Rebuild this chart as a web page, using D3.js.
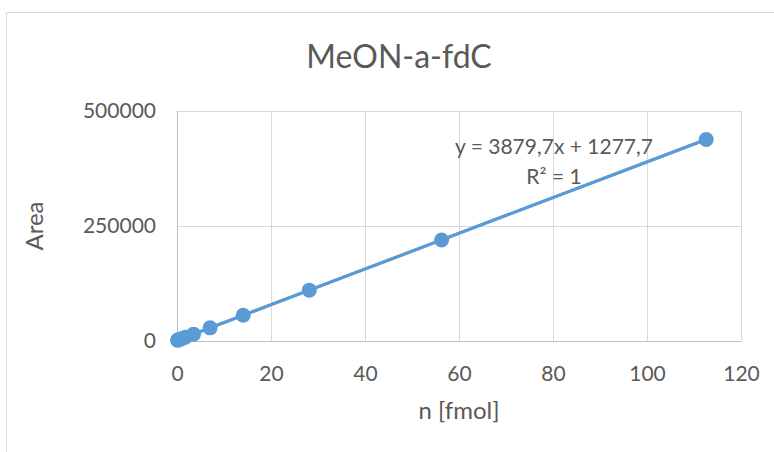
<!DOCTYPE html>
<html><head><meta charset="utf-8">
<script src="https://cdn.jsdelivr.net/npm/d3@7/dist/d3.min.js"></script>
<style>body{margin:0;background:#fff;} text{font-family:Lato,"Open Sans",sans-serif;fill:#595959;}</style>
</head><body>
<svg id="c" width="774" height="452"></svg>
<script>
const xValues = [0.11, 0.22, 0.44, 0.88, 1.76, 3.52, 7.04, 14.08, 28.15, 56.3, 112.6];
const yValues = [1700, 2150, 3000, 4700, 8100, 14900, 28600, 55900, 110500, 219700, 438100];
const xTicks = [0, 20, 40, 60, 80, 100, 120];
const yTicks = [0, 250000, 500000];
const slope = 3879.7, intercept = 1277.7;
const title = "MeON-a-fdC";
const xLabel = "n [fmol]";
const yLabel = "Area";
const eqText = "y = 3879,7x + 1277,7";

const svg = d3.select("#c");
const color = "#5B9BD5";
const m = {l:177, r:741, t:111, b:341};
const x = d3.scaleLinear().domain([0,120]).range([m.l, m.r]);
const y = d3.scaleLinear().domain([0,500000]).range([m.b, m.t]);

svg.append("rect").attr("x",6.5).attr("y",12.5).attr("width",800).attr("height",500)
  .attr("fill","#fff").attr("stroke","#d9d9d9");

// grid
svg.append("g").selectAll("line").data(xTicks.filter(d=>d>0)).join("line")
  .attr("x1",d=>x(d)+0.5).attr("x2",d=>x(d)+0.5).attr("y1",m.t).attr("y2",m.b)
  .attr("stroke","#d9d9d9").attr("stroke-width",1);
svg.append("g").selectAll("line").data(yTicks.filter(d=>d>0)).join("line")
  .attr("x1",m.l).attr("x2",m.r).attr("y1",d=>y(d)+0.5).attr("y2",d=>y(d)+0.5)
  .attr("stroke","#d9d9d9").attr("stroke-width",1);
// axes lines
svg.append("line").attr("x1",m.l).attr("x2",m.r).attr("y1",m.b+0.5).attr("y2",m.b+0.5).attr("stroke","#bfbfbf");
svg.append("line").attr("x1",m.l+0.5).attr("x2",m.l+0.5).attr("y1",m.t).attr("y2",m.b).attr("stroke","#bfbfbf");

// tick labels via axes
const xa = svg.append("g").attr("transform",`translate(0,${m.b})`)
  .call(d3.axisBottom(x).tickValues(xTicks).tickSize(0).tickPadding(25).tickFormat(d3.format("d")));
xa.select(".domain").remove();
xa.selectAll("text").style("font-size","21px").attr("fill","#595959");
const ya = svg.append("g").attr("transform",`translate(${m.l},0)`)
  .call(d3.axisLeft(y).tickValues(yTicks).tickSize(0).tickPadding(21).tickFormat(d3.format("d")));
ya.select(".domain").remove();
ya.selectAll("text").style("font-size","21px").attr("fill","#595959");

// trendline
svg.append("line").attr("x1",x(0)).attr("y1",y(intercept))
  .attr("x2",x(d3.max(xValues))).attr("y2",y(slope*d3.max(xValues)+intercept))
  .attr("stroke",color).attr("stroke-width",3);
// data line + markers
const pts = xValues.map((v,i)=>[v,yValues[i]]);
svg.append("path").datum(pts).attr("d",d3.line().x(d=>x(d[0])).y(d=>y(d[1])))
  .attr("fill","none").attr("stroke",color).attr("stroke-width",3);
svg.append("g").selectAll("circle").data(pts).join("circle")
  .attr("cx",d=>x(d[0])).attr("cy",d=>y(d[1])).attr("r",7.5).attr("fill",color);

svg.append("text").attr("x",399).attr("y",68).attr("text-anchor","middle").style("font-size","32px").text(title);
svg.append("text").attr("x",459).attr("y",419).attr("text-anchor","middle").style("font-size","24px").text(xLabel);
svg.append("text").attr("transform","translate(43,226) rotate(-90)").attr("text-anchor","middle").style("font-size","24px").text(yLabel);
svg.append("text").attr("x",554).attr("y",154).attr("text-anchor","middle").style("font-size","21px").text(eqText);
svg.append("text").attr("x",554).attr("y",184).attr("text-anchor","middle").style("font-size","21px").text("R² = 1");
</script>
</body></html>
